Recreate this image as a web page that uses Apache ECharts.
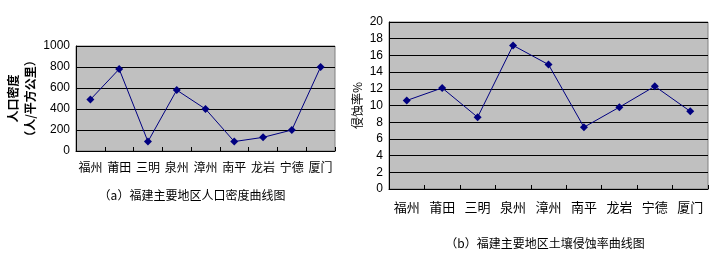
<!DOCTYPE html>
<html><head><meta charset="utf-8">
<script src="https://cdn.jsdelivr.net/npm/echarts@6/dist/echarts.min.js"></script>
<style>html,body{margin:0;padding:0;background:#fff}#c{width:715px;height:260px}</style>
</head><body><div id="c"></div>
<script>
var categories = ['福州','莆田','三明','泉州','漳州','南平','龙岩','宁德','厦门'];
var densityValues = [490, 780, 90, 580, 400, 90, 130, 200, 800];
var erosionValues = [10.6, 12.1, 8.6, 17.2, 14.9, 7.4, 9.8, 12.3, 9.3];
var titleA = '（a）福建主要地区人口密度曲线图';
var titleB = '（b）福建主要地区土壤侵蚀率曲线图';
var nameA = '人口密度\n（人/平方公里）';
var nameB = '侵蚀率%';

var cjk = '"Noto Sans CJK SC", sans-serif';
var num = '"Liberation Sans", Arial, sans-serif';
var lineColor = '#000080';

function xAx(idx, fs){
  return {type:'category', gridIndex:idx, data:categories, boundaryGap:true,
    axisLine:{lineStyle:{color:'#000', width:1}},
    axisTick:{show:true, length:4, inside:true, lineStyle:{color:'#000'}},
    axisLabel:{color:'#000', fontFamily:cjk, fontSize:fs, margin:fs===12?10:12, interval:0},
    splitLine:{show:false}};
}
function yAx(idx, max, interval, name, gap, fw){
  return {type:'value', gridIndex:idx, min:0, max:max, interval:interval,
    name:name, nameLocation:'middle', nameGap:gap, nameRotate:90,
    nameTextStyle:{color:'#000', fontFamily:cjk, fontSize:12, fontWeight:fw, lineHeight:17},
    axisLine:{show:true, lineStyle:{color:'#000'}},
    axisTick:{show:false},
    axisLabel:{color:'#000', fontFamily:num, fontSize:12, margin:6, formatter:function(v){return String(v);}},
    splitLine:{show:true, lineStyle:{color:'#000', width:1}}};
}
var chart = echarts.init(document.getElementById('c'), null, {renderer:'canvas'});
chart.setOption({
  animation:false,
  backgroundColor:'#fff',
  title:[
    {text:titleA, left:187, top:184, textAlign:'center', textStyle:{fontFamily:cjk, fontSize:12, fontWeight:'normal', color:'#000'}},
    {text:titleB, left:540, top:232, textAlign:'center', textStyle:{fontFamily:cjk, fontSize:12, fontWeight:'normal', color:'#000'}}
  ],
  grid:[
    {left:76, top:46, width:259, height:105, show:true, backgroundColor:'#c0c0c0', borderColor:'#808080', borderWidth:1},
    {left:389, top:22, width:319, height:167, show:true, backgroundColor:'#c0c0c0', borderColor:'#808080', borderWidth:1}
  ],
  xAxis:[xAx(0,12), xAx(1,13)],
  yAxis:[yAx(0,1000,200,nameA,35,'bold'), yAx(1,20,2,nameB,22,'normal')],
  series:[
    {type:'line', xAxisIndex:0, yAxisIndex:0, data:densityValues, symbol:'diamond', symbolSize:8,
      lineStyle:{color:lineColor, width:1}, itemStyle:{color:lineColor}},
    {type:'line', xAxisIndex:1, yAxisIndex:1, data:erosionValues, symbol:'diamond', symbolSize:8,
      lineStyle:{color:lineColor, width:1}, itemStyle:{color:lineColor}}
  ]
});
</script></body></html>
